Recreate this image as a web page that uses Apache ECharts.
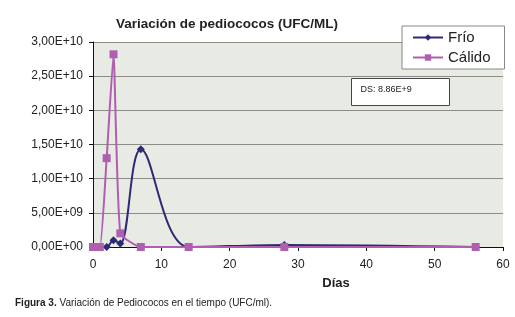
<!DOCTYPE html>
<html>
<head>
<meta charset="utf-8">
<script src="https://cdn.jsdelivr.net/npm/echarts@6/dist/echarts.min.js"></script>
<style>
  html, body { margin: 0; padding: 0; background: #fff; }
  #chart { width: 515px; height: 317px; }
</style>
</head>
<body>
<div id="chart"></div>
<script>
// Días de muestreo y recuentos (UFC/ml)
const dias = [0, 1, 2, 3, 4, 7, 14, 28, 56];
const frio = [0, 0, 0, 1.0e9, 0.5e9, 1.43e10, 0, 3.0e8, 0];
const calido = [0, 0, 1.3e10, 2.82e10, 2.0e9, 0, 0, 0, 0];
const yTicks = [0, 5e9, 1e10, 1.5e10, 2e10, 2.5e10, 3e10];

(function () {
    var myChart = echarts.init(document.getElementById('chart'));
    const font = '"Liberation Sans", Arial, sans-serif';

    function sci(v) {
        if (v === 0) return '0,00E+00';
        let e = Math.floor(Math.log10(v));
        let m = (v / Math.pow(10, e)).toFixed(2).replace('.', ',');
        return m + 'E+' + (e < 10 ? '0' + e : e);
    }

    var option = {
        animation: false,
        textStyle: { fontFamily: font },
        title: [
            {
                text: 'Variación de pediococos (UFC/ML)',
                left: 222, top: 12, textAlign: 'center',
                textStyle: { fontSize: 13.5, fontWeight: 'bold', color: '#222', fontFamily: font }
            },
            {
                text: '{b|Figura 3.} Variación de Pediococos en el tiempo (UFC/ml).',
                left: 10, top: 293,
                textStyle: {
                    fontSize: 10, color: '#222', fontWeight: 'normal', fontFamily: font,
                    rich: { b: { fontWeight: 'bold', fontSize: 10, fontFamily: font } }
                }
            }
        ],
        legend: {
            orient: 'vertical',
            left: 402, top: 26,
            width: 104,
            padding: [4, 14, 4, 10],
            itemGap: 5,
            itemWidth: 30, itemHeight: 8,
            backgroundColor: '#fff',
            borderColor: '#888',
            borderWidth: 1,
            textStyle: { fontSize: 15, color: '#222', fontFamily: font },
            data: ['Frío', 'Cálido']
        },
        grid: {
            left: 93, right: 12, top: 42, bottom: 70,
            show: true, backgroundColor: '#e8ebe4', borderWidth: 0
        },
        xAxis: {
            type: 'value', min: 0, max: 60, interval: 10,
            name: 'Días', nameLocation: 'middle', nameGap: 30,
            nameTextStyle: { fontSize: 13, fontWeight: 'bold', color: '#222', padding: [0, 0, 0, 76] },
            axisLine: { lineStyle: { color: '#111', width: 1 } },
            axisTick: { show: true, length: 4, lineStyle: { color: '#111' } },
            axisLabel: { fontSize: 12, color: '#222', margin: 12 },
            splitLine: { show: false }
        },
        yAxis: {
            type: 'value', min: yTicks[0], max: yTicks[yTicks.length - 1], interval: 5e9,
            axisLine: { show: true, lineStyle: { color: '#111', width: 1 } },
            axisTick: { show: true, length: 4, lineStyle: { color: '#111' } },
            axisLabel: { fontSize: 12, color: '#222', margin: 10, formatter: sci },
            splitLine: { show: true, lineStyle: { color: '#8a8c86', width: 1 } }
        },
        graphic: [
            {
                type: 'group', left: 351, top: 78,
                children: [
                    { type: 'rect', shape: { x: 0, y: 0, width: 98, height: 27 },
                      style: { fill: '#fff', stroke: '#444', lineWidth: 1 } },
                    { type: 'text', x: 9, y: 7,
                      style: { text: 'DS: 8.86E+9', fontSize: 9, fill: '#222', fontFamily: font } }
                ]
            }
        ],
        series: [
            {
                name: 'Frío', type: 'line', smooth: 0.35,
                symbol: 'diamond', symbolSize: 8,
                itemStyle: { color: '#2b2a72' },
                lineStyle: { color: '#2b2a72', width: 2 },
                data: dias.map((d, i) => [d, frio[i]]),
                z: 2
            },
            {
                name: 'Cálido', type: 'line', smooth: 0.15,
                symbol: 'rect', symbolSize: 8,
                itemStyle: { color: '#b05fb0' },
                lineStyle: { color: '#b05fb0', width: 2 },
                data: dias.map((d, i) => [d, calido[i]]),
                z: 3
            }
        ]
    };

    myChart.setOption(option);
    window.addEventListener('resize', function () {
        myChart.resize();
    });
})();
</script>
</body>
</html>
